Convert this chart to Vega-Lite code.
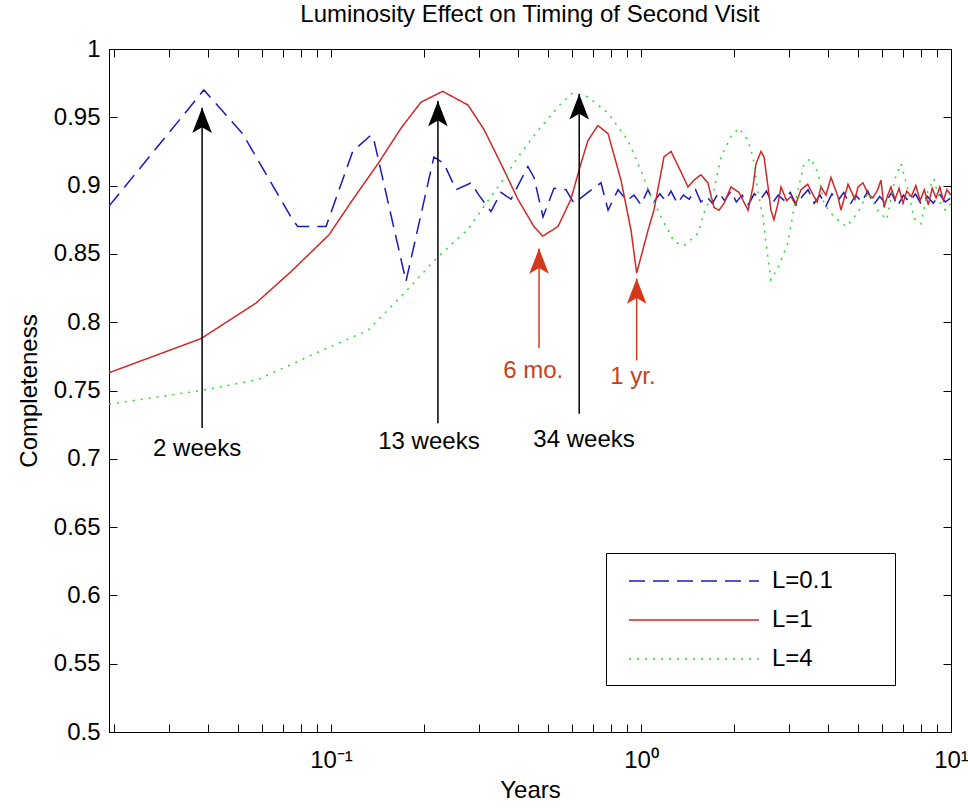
{
  "$schema": "https://vega.github.io/schema/vega-lite/v6.json",
  "width": 842,
  "height": 683,
  "autosize": "none",
  "padding": {"left": 109, "top": 49, "right": 17, "bottom": 78},
  "background": "white",
  "title": {"text": "Luminosity Effect on Timing of Second Visit", "fontSize": 24, "fontWeight": "normal", "font": "Liberation Sans", "color": "black", "offset": 10, "anchor": "middle"},
  "config": {
    "view": {"stroke": "black", "strokeWidth": 1},
    "font": "Liberation Sans",
    "axis": {"grid": false, "domainColor": "black", "tickColor": "black", "labelColor": "black", "titleColor": "black", "labelFontSize": 24, "titleFontSize": 24, "titleFontWeight": "normal", "labelFont": "Liberation Sans", "titleFont": "Liberation Sans", "tickSize": -8, "tickWidth": 1, "domainWidth": 1}
  },
  "datasets": {
    "curves": [
      {"t": 0.01923, "c": 0.885, "L": "L=0.1"}, {"t": 0.0389, "c": 0.970, "L": "L=0.1"}, {"t": 0.0519, "c": 0.938, "L": "L=0.1"}, {"t": 0.0743, "c": 0.877, "L": "L=0.1"}, {"t": 0.0781, "c": 0.870, "L": "L=0.1"}, {"t": 0.0964, "c": 0.870, "L": "L=0.1"}, {"t": 0.1175, "c": 0.925, "L": "L=0.1"}, {"t": 0.1346, "c": 0.937, "L": "L=0.1"}, {"t": 0.1377, "c": 0.933, "L": "L=0.1"}, {"t": 0.1746, "c": 0.830, "L": "L=0.1"}, {"t": 0.2148, "c": 0.921, "L": "L=0.1"}, {"t": 0.2315, "c": 0.916, "L": "L=0.1"}, {"t": 0.2531, "c": 0.897, "L": "L=0.1"}, {"t": 0.2830, "c": 0.902, "L": "L=0.1"}, {"t": 0.3000, "c": 0.893, "L": "L=0.1"}, {"t": 0.3281, "c": 0.881, "L": "L=0.1"}, {"t": 0.3535, "c": 0.895, "L": "L=0.1"}, {"t": 0.3809, "c": 0.890, "L": "L=0.1"}, {"t": 0.4317, "c": 0.914, "L": "L=0.1"}, {"t": 0.4516, "c": 0.906, "L": "L=0.1"}, {"t": 0.4831, "c": 0.877, "L": "L=0.1"}, {"t": 0.5239, "c": 0.898, "L": "L=0.1"}, {"t": 0.5728, "c": 0.897, "L": "L=0.1"}, {"t": 0.6081, "c": 0.887, "L": "L=0.1"}, {"t": 0.6745, "c": 0.895, "L": "L=0.1"}, {"t": 0.7430, "c": 0.902, "L": "L=0.1"}, {"t": 0.7831, "c": 0.882, "L": "L=0.1"}, {"t": 0.8433, "c": 0.897, "L": "L=0.1"}, {"t": 0.90, "c": 0.889, "L": "L=0.1"}, {"t": 0.9493, "c": 0.893, "L": "L=0.1"}, {"t": 1.0, "c": 0.886, "L": "L=0.1"}, {"t": 1.053, "c": 0.897, "L": "L=0.1"}, {"t": 1.101, "c": 0.888, "L": "L=0.1"},
      {"t": 1.15, "c": 0.894, "L": "L=0.1"}, {"t": 1.2, "c": 0.889, "L": "L=0.1"}, {"t": 1.25, "c": 0.896, "L": "L=0.1"}, {"t": 1.31, "c": 0.887, "L": "L=0.1"}, {"t": 1.37, "c": 0.893, "L": "L=0.1"}, {"t": 1.43, "c": 0.890, "L": "L=0.1"}, {"t": 1.5, "c": 0.897, "L": "L=0.1"}, {"t": 1.56, "c": 0.888, "L": "L=0.1"}, {"t": 1.63, "c": 0.892, "L": "L=0.1"}, {"t": 1.7, "c": 0.887, "L": "L=0.1"}, {"t": 1.78, "c": 0.895, "L": "L=0.1"}, {"t": 1.86, "c": 0.889, "L": "L=0.1"}, {"t": 1.95, "c": 0.896, "L": "L=0.1"}, {"t": 2.03, "c": 0.888, "L": "L=0.1"}, {"t": 2.12, "c": 0.893, "L": "L=0.1"}, {"t": 2.22, "c": 0.886, "L": "L=0.1"}, {"t": 2.32, "c": 0.894, "L": "L=0.1"}, {"t": 2.43, "c": 0.890, "L": "L=0.1"}, {"t": 2.54, "c": 0.896, "L": "L=0.1"}, {"t": 2.65, "c": 0.887, "L": "L=0.1"}, {"t": 2.77, "c": 0.893, "L": "L=0.1"}, {"t": 2.9, "c": 0.889, "L": "L=0.1"}, {"t": 3.03, "c": 0.895, "L": "L=0.1"}, {"t": 3.17, "c": 0.886, "L": "L=0.1"}, {"t": 3.31, "c": 0.892, "L": "L=0.1"}, {"t": 3.46, "c": 0.897, "L": "L=0.1"}, {"t": 3.62, "c": 0.887, "L": "L=0.1"}, {"t": 3.78, "c": 0.893, "L": "L=0.1"}, {"t": 3.95, "c": 0.885, "L": "L=0.1"}, {"t": 4.13, "c": 0.894, "L": "L=0.1"}, {"t": 4.32, "c": 0.889, "L": "L=0.1"}, {"t": 4.51, "c": 0.895, "L": "L=0.1"}, {"t": 4.72, "c": 0.886, "L": "L=0.1"}, {"t": 4.93, "c": 0.893, "L": "L=0.1"}, {"t": 5.15, "c": 0.888, "L": "L=0.1"}, {"t": 5.39, "c": 0.896, "L": "L=0.1"}, {"t": 5.63, "c": 0.886, "L": "L=0.1"}, {"t": 5.89, "c": 0.892, "L": "L=0.1"}, {"t": 6.15, "c": 0.887, "L": "L=0.1"}, {"t": 6.43, "c": 0.895, "L": "L=0.1"}, {"t": 6.72, "c": 0.885, "L": "L=0.1"}, {"t": 7.03, "c": 0.893, "L": "L=0.1"}, {"t": 7.35, "c": 0.888, "L": "L=0.1"}, {"t": 7.68, "c": 0.894, "L": "L=0.1"}, {"t": 8.03, "c": 0.886, "L": "L=0.1"}, {"t": 8.39, "c": 0.892, "L": "L=0.1"}, {"t": 8.77, "c": 0.887, "L": "L=0.1"}, {"t": 9.17, "c": 0.894, "L": "L=0.1"}, {"t": 9.58, "c": 0.888, "L": "L=0.1"}, {"t": 10.0, "c": 0.891, "L": "L=0.1"},

      {"t": 0.01923, "c": 0.763, "L": "L=1"}, {"t": 0.0381, "c": 0.788, "L": "L=1"}, {"t": 0.0573, "c": 0.814, "L": "L=1"}, {"t": 0.0743, "c": 0.837, "L": "L=1"}, {"t": 0.0986, "c": 0.864, "L": "L=1"}, {"t": 0.1161, "c": 0.888, "L": "L=1"}, {"t": 0.1418, "c": 0.916, "L": "L=1"}, {"t": 0.1682, "c": 0.942, "L": "L=1"}, {"t": 0.1950, "c": 0.961, "L": "L=1"}, {"t": 0.2291, "c": 0.969, "L": "L=1"}, {"t": 0.2767, "c": 0.959, "L": "L=1"}, {"t": 0.3117, "c": 0.941, "L": "L=1"}, {"t": 0.3535, "c": 0.916, "L": "L=1"}, {"t": 0.4009, "c": 0.890, "L": "L=1"}, {"t": 0.4516, "c": 0.870, "L": "L=1"}, {"t": 0.4819, "c": 0.863, "L": "L=1"}, {"t": 0.5397, "c": 0.870, "L": "L=1"}, {"t": 0.5943, "c": 0.890, "L": "L=1"}, {"t": 0.6398, "c": 0.916, "L": "L=1"}, {"t": 0.6745, "c": 0.933, "L": "L=1"}, {"t": 0.7261, "c": 0.944, "L": "L=1"}, {"t": 0.7831, "c": 0.938, "L": "L=1"}, {"t": 0.8620, "c": 0.904, "L": "L=1"}, {"t": 0.9290, "c": 0.867, "L": "L=1"}, {"t": 0.9685, "c": 0.836, "L": "L=1"}, {"t": 1.053, "c": 0.867, "L": "L=1"}, {"t": 1.101, "c": 0.882, "L": "L=1"}, {"t": 1.186, "c": 0.921, "L": "L=1"}, {"t": 1.250, "c": 0.925, "L": "L=1"}, {"t": 1.346, "c": 0.910, "L": "L=1"}, {"t": 1.418, "c": 0.899, "L": "L=1"}, {"t": 1.483, "c": 0.904, "L": "L=1"}, {"t": 1.561, "c": 0.908, "L": "L=1"}, {"t": 1.644, "c": 0.902, "L": "L=1"}, {"t": 1.720, "c": 0.884, "L": "L=1"}, {"t": 1.785, "c": 0.882, "L": "L=1"}, {"t": 1.853, "c": 0.887, "L": "L=1"}, {"t": 1.951, "c": 0.899, "L": "L=1"}, {"t": 2.070, "c": 0.895, "L": "L=1"}, {"t": 2.215, "c": 0.882, "L": "L=1"}, {"t": 2.297, "c": 0.899, "L": "L=1"}, {"t": 2.350, "c": 0.916, "L": "L=1"}, {"t": 2.438, "c": 0.925, "L": "L=1"}, {"t": 2.494, "c": 0.921, "L": "L=1"}, {"t": 2.569, "c": 0.899, "L": "L=1"}, {"t": 2.625, "c": 0.882, "L": "L=1"}, {"t": 2.685, "c": 0.875, "L": "L=1"}, {"t": 2.767, "c": 0.887, "L": "L=1"}, {"t": 2.830, "c": 0.899, "L": "L=1"}, {"t": 2.95, "c": 0.889, "L": "L=1"}, {"t": 3.048, "c": 0.892, "L": "L=1"}, {"t": 3.15, "c": 0.886, "L": "L=1"}, {"t": 3.281, "c": 0.897, "L": "L=1"}, {"t": 3.45, "c": 0.901, "L": "L=1"}, {"t": 3.614, "c": 0.892, "L": "L=1"}, {"t": 3.7, "c": 0.888, "L": "L=1"}, {"t": 3.808, "c": 0.899, "L": "L=1"}, {"t": 3.95, "c": 0.893, "L": "L=1"}, {"t": 4.102, "c": 0.906, "L": "L=1"}, {"t": 4.317, "c": 0.892, "L": "L=1"}, {"t": 4.418, "c": 0.882, "L": "L=1"}, {"t": 4.653, "c": 0.901, "L": "L=1"}, {"t": 4.9, "c": 0.890, "L": "L=1"}, {"t": 5.013, "c": 0.899, "L": "L=1"}, {"t": 5.2, "c": 0.902, "L": "L=1"}, {"t": 5.399, "c": 0.894, "L": "L=1"}, {"t": 5.6, "c": 0.891, "L": "L=1"}, {"t": 5.8, "c": 0.897, "L": "L=1"}, {"t": 5.944, "c": 0.904, "L": "L=1"}, {"t": 6.082, "c": 0.884, "L": "L=1"}, {"t": 6.25, "c": 0.893, "L": "L=1"}, {"t": 6.402, "c": 0.899, "L": "L=1"}, {"t": 6.6, "c": 0.890, "L": "L=1"}, {"t": 6.8, "c": 0.898, "L": "L=1"}, {"t": 7.0, "c": 0.887, "L": "L=1"}, {"t": 7.2, "c": 0.896, "L": "L=1"}, {"t": 7.45, "c": 0.892, "L": "L=1"}, {"t": 7.7, "c": 0.900, "L": "L=1"}, {"t": 7.95, "c": 0.889, "L": "L=1"}, {"t": 8.2, "c": 0.897, "L": "L=1"}, {"t": 8.45, "c": 0.886, "L": "L=1"}, {"t": 8.7, "c": 0.898, "L": "L=1"}, {"t": 8.95, "c": 0.891, "L": "L=1"}, {"t": 9.2, "c": 0.899, "L": "L=1"}, {"t": 9.45, "c": 0.889, "L": "L=1"}, {"t": 9.7, "c": 0.897, "L": "L=1"}, {"t": 10.0, "c": 0.893, "L": "L=1"},

      {"t": 0.01923, "c": 0.740, "L": "L=4"}, {"t": 0.0381, "c": 0.750, "L": "L=4"}, {"t": 0.0581, "c": 0.758, "L": "L=4"}, {"t": 0.0949, "c": 0.780, "L": "L=4"}, {"t": 0.1316, "c": 0.794, "L": "L=4"}, {"t": 0.1719, "c": 0.821, "L": "L=4"}, {"t": 0.2213, "c": 0.848, "L": "L=4"}, {"t": 0.2767, "c": 0.868, "L": "L=4"}, {"t": 0.3234, "c": 0.890, "L": "L=4"}, {"t": 0.3535, "c": 0.902, "L": "L=4"}, {"t": 0.4101, "c": 0.924, "L": "L=4"}, {"t": 0.4756, "c": 0.943, "L": "L=4"}, {"t": 0.5521, "c": 0.960, "L": "L=4"}, {"t": 0.6035, "c": 0.968, "L": "L=4"}, {"t": 0.6745, "c": 0.965, "L": "L=4"}, {"t": 0.7831, "c": 0.953, "L": "L=4"}, {"t": 0.9080, "c": 0.933, "L": "L=4"}, {"t": 1.0, "c": 0.911, "L": "L=4"}, {"t": 1.077, "c": 0.892, "L": "L=4"}, {"t": 1.186, "c": 0.873, "L": "L=4"}, {"t": 1.278, "c": 0.859, "L": "L=4"}, {"t": 1.377, "c": 0.856, "L": "L=4"}, {"t": 1.527, "c": 0.865, "L": "L=4"}, {"t": 1.596, "c": 0.880, "L": "L=4"}, {"t": 1.720, "c": 0.897, "L": "L=4"}, {"t": 1.811, "c": 0.921, "L": "L=4"}, {"t": 1.951, "c": 0.936, "L": "L=4"}, {"t": 2.070, "c": 0.942, "L": "L=4"}, {"t": 2.215, "c": 0.933, "L": "L=4"}, {"t": 2.297, "c": 0.921, "L": "L=4"}, {"t": 2.385, "c": 0.895, "L": "L=4"}, {"t": 2.475, "c": 0.877, "L": "L=4"}, {"t": 2.530, "c": 0.858, "L": "L=4"}, {"t": 2.625, "c": 0.831, "L": "L=4"}, {"t": 2.767, "c": 0.840, "L": "L=4"}, {"t": 2.979, "c": 0.858, "L": "L=4"}, {"t": 3.116, "c": 0.884, "L": "L=4"}, {"t": 3.357, "c": 0.916, "L": "L=4"}, {"t": 3.533, "c": 0.920, "L": "L=4"}, {"t": 3.723, "c": 0.909, "L": "L=4"}, {"t": 3.894, "c": 0.887, "L": "L=4"}, {"t": 4.196, "c": 0.877, "L": "L=4"}, {"t": 4.6, "c": 0.870, "L": "L=4"}, {"t": 5.0, "c": 0.880, "L": "L=4"}, {"t": 5.4, "c": 0.895, "L": "L=4"}, {"t": 5.8, "c": 0.882, "L": "L=4"}, {"t": 6.2, "c": 0.875, "L": "L=4"}, {"t": 6.6, "c": 0.905, "L": "L=4"}, {"t": 6.9, "c": 0.916, "L": "L=4"}, {"t": 7.3, "c": 0.895, "L": "L=4"}, {"t": 7.6, "c": 0.876, "L": "L=4"}, {"t": 8.0, "c": 0.872, "L": "L=4"}, {"t": 8.4, "c": 0.895, "L": "L=4"}, {"t": 8.8, "c": 0.905, "L": "L=4"}, {"t": 9.2, "c": 0.888, "L": "L=4"}, {"t": 9.6, "c": 0.882, "L": "L=4"}, {"t": 10.0, "c": 0.887, "L": "L=4"}
    ],
    "arrows": [
      {"t": 0.0384, "base": 0.7225, "tip": 0.957, "type": "peak"},
      {"t": 0.2213, "base": 0.726, "tip": 0.962, "type": "peak"},
      {"t": 0.632, "base": 0.733, "tip": 0.967, "type": "peak"},
      {"t": 0.469, "base": 0.781, "tip": 0.854, "type": "dip"},
      {"t": 0.9685, "base": 0.772, "tip": 0.832, "type": "dip"}
    ],
    "labels": [
      {"t": 0.037, "c": 0.707, "text": "2 weeks", "type": "peak"},
      {"t": 0.207, "c": 0.712, "text": "13 weeks", "type": "peak"},
      {"t": 0.655, "c": 0.714, "text": "34 weeks", "type": "peak"},
      {"t": 0.449, "c": 0.764, "text": "6 mo.", "type": "dip"},
      {"t": 0.942, "c": 0.760, "text": "1 yr.", "type": "dip"}
    ]
  },
  "layer": [
    {
      "data": {"name": "curves"},
      "mark": {"type": "line", "strokeWidth": 1.5, "clip": true},
      "encoding": {
        "x": {"field": "t", "type": "quantitative", "scale": {"type": "log", "domain": [0.01923, 10], "nice": false},
          "axis": {"orient": "bottom", "values": [0.02, 0.03, 0.04, 0.05, 0.06, 0.07, 0.08, 0.09, 0.1, 0.2, 0.3, 0.4, 0.5, 0.6, 0.7, 0.8, 0.9, 1, 2, 3, 4, 5, 6, 7, 8, 9, 10],
            "labelExpr": "datum.value == 0.1 ? '10⁻¹' : datum.value == 1 ? '10⁰' : datum.value == 10 ? '10¹' : ''",
            "labelFlush": false, "labelOverlap": false, "labelPadding": 24, "title": "Years", "titlePadding": 6}},
        "y": {"field": "c", "type": "quantitative", "scale": {"domain": [0.5, 1], "nice": false, "zero": false},
          "axis": {"orient": "left", "values": [0.5, 0.55, 0.6, 0.65, 0.7, 0.75, 0.8, 0.85, 0.9, 0.95, 1], "labelExpr": "format(datum.value, '.2~f')", "labelPadding": 17, "title": "Completeness", "titlePadding": 12}},
        "color": {"field": "L", "type": "nominal", "scale": {"domain": ["L=0.1", "L=1", "L=4"], "range": ["#1a1ab8", "#d02828", "#2ed82e"]},
          "legend": {"orient": "none", "legendX": 497, "legendY": 504, "title": null, "symbolType": "M-5,0H5", "symbolSize": 676, "symbolStrokeWidth": 1.5, "symbolOffset": 60, "labelOffset": 64, "labelFontSize": 24, "labelFont": "Liberation Sans", "labelColor": "black", "padding": 14, "rowPadding": 13, "strokeColor": "black", "fillColor": "white", "labelLimit": 0, "labelExpr": "datum.label + '\u2003\u2003\u200b'"}},
        "strokeDash": {"field": "L", "type": "nominal", "scale": {"domain": ["L=0.1", "L=1", "L=4"], "range": [[16, 8], [1, 0], [2, 6]]},
          "legend": {"orient": "none", "legendX": 497, "legendY": 504, "title": null, "symbolType": "M-5,0H5", "symbolSize": 676, "symbolStrokeWidth": 1.5, "symbolOffset": 60, "labelOffset": 64, "labelFontSize": 24, "labelFont": "Liberation Sans", "labelColor": "black", "padding": 14, "rowPadding": 13, "strokeColor": "black", "fillColor": "white", "labelLimit": 0, "labelExpr": "datum.label + '\u2003\u2003\u200b'"}}
      }
    },
    {
      "data": {"name": "arrows"},
      "mark": {"type": "rule", "strokeWidth": 1.5},
      "encoding": {
        "x": {"field": "t", "type": "quantitative", "scale": {"type": "log", "domain": [0.01923, 10], "nice": false},
          "axis": {"orient": "top", "values": [0.02, 0.03, 0.04, 0.05, 0.06, 0.07, 0.08, 0.09, 0.1, 0.2, 0.3, 0.4, 0.5, 0.6, 0.7, 0.8, 0.9, 1, 2, 3, 4, 5, 6, 7, 8, 9, 10], "labels": false, "title": null}},
        "y": {"field": "base", "type": "quantitative", "scale": {"domain": [0.5, 1], "nice": false, "zero": false},
          "axis": {"orient": "right", "values": [0.5, 0.55, 0.6, 0.65, 0.7, 0.75, 0.8, 0.85, 0.9, 0.95, 1], "labels": false, "title": null}},
        "y2": {"field": "tip"},
        "color": {"condition": {"test": "datum.type == 'dip'", "value": "#d43a1a"}, "value": "black"}
      }
    },
    {
      "data": {"name": "arrows"},
      "mark": {"type": "point", "filled": true, "opacity": 1, "strokeWidth": 0, "size": 529, "shape": "M0,0L0.85,2.2L0,1.7L-0.85,2.2Z"},
      "encoding": {
        "x": {"field": "t", "type": "quantitative", "scale": {"type": "log", "domain": [0.01923, 10], "nice": false}, "axis": null},
        "y": {"field": "tip", "type": "quantitative", "scale": {"domain": [0.5, 1], "nice": false, "zero": false}, "axis": null},
        "color": {"condition": {"test": "datum.type == 'dip'", "value": "#d43a1a"}, "value": "black"}
      }
    },
    {
      "data": {"name": "labels"},
      "mark": {"type": "text", "fontSize": 24, "font": "Liberation Sans", "align": "center", "baseline": "middle"},
      "encoding": {
        "x": {"field": "t", "type": "quantitative", "scale": {"type": "log", "domain": [0.01923, 10], "nice": false}, "axis": null},
        "y": {"field": "c", "type": "quantitative", "scale": {"domain": [0.5, 1], "nice": false, "zero": false}, "axis": null},
        "text": {"field": "text"},
        "color": {"condition": {"test": "datum.type == 'dip'", "value": "#c8401e"}, "value": "black"}
      }
    }
  ],
  "resolve": {"axis": {"x": "independent", "y": "independent"}}
}
